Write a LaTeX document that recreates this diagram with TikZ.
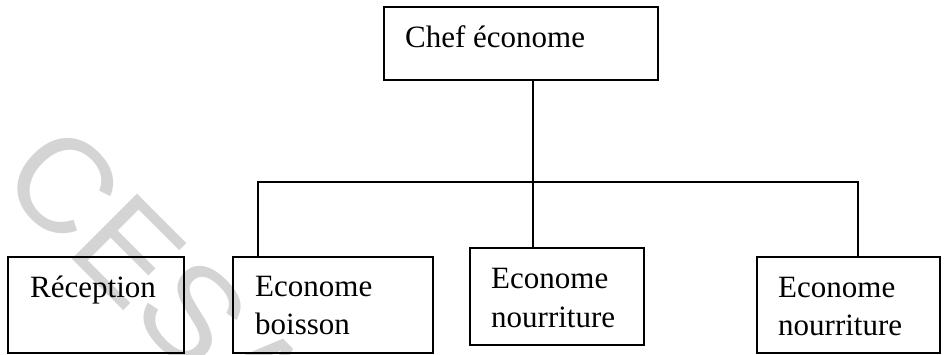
\documentclass[tikz,border=0pt]{standalone}
\usepackage{fontspec}
\setmainfont{Liberation Serif}
\newfontfamily\markfont{Liberation Sans}
\begin{document}
\begin{tikzpicture}[x=1pt,y=-1pt,
  box/.style={draw=black,line width=1.2pt,inner sep=0pt},
  lbl/.style={anchor=base west,inner sep=0pt,font=\fontsize{31}{36}\selectfont},
  wire/.style={draw=black,line width=1.2pt},
  stamp/.style={text=black!17,font=\markfont\fontsize{134}{140}\selectfont,rotate=-45,anchor=west,inner sep=0pt}]
\useasboundingbox (0,0) rectangle (946,354);
\fill[white] (0,0) rectangle (946,354);

% faint stamp behind the chart
\node[stamp] (stamp) at (29,150) {CESAG};

% boxes
\node[box,minimum width=274pt,minimum height=73pt] (chef) at (521,43.5) {};
\node[box,minimum width=176pt,minimum height=96pt] (recep) at (96,305) {};
\node[box,minimum width=200pt,minimum height=96pt] (boisson) at (333,305) {};
\node[box,minimum width=174pt,minimum height=97pt] (nourA) at (557,296.5) {};
\node[box,minimum width=183pt,minimum height=96pt] (nourB) at (848.5,305) {};

% labels
\node[lbl] (tchef) at (405,47) {Chef économe};
\node[lbl] (trecep) at (30,297) {Réception};
\node[lbl] (tboisA) at (255,296) {Econome};
\node[lbl] (tboisB) at (255,334) {boisson};
\node[lbl] (tnourA1) at (491,288) {Econome};
\node[lbl] (tnourA2) at (491,327) {nourriture};
\node[lbl] (tnourB1) at (778,297) {Econome};
\node[lbl] (tnourB2) at (778,335) {nourriture};

% connectors
\coordinate (trunk) at (533,182);
\coordinate (busL) at (258,182);
\coordinate (busR) at (858,182);
\draw[wire] (trunk |- chef.south) -- (trunk |- nourA.north);
\draw[wire] (busL |- boisson.north) -- (busL) -- (busR) -- (busR |- nourB.north);
\end{tikzpicture}
\end{document}
